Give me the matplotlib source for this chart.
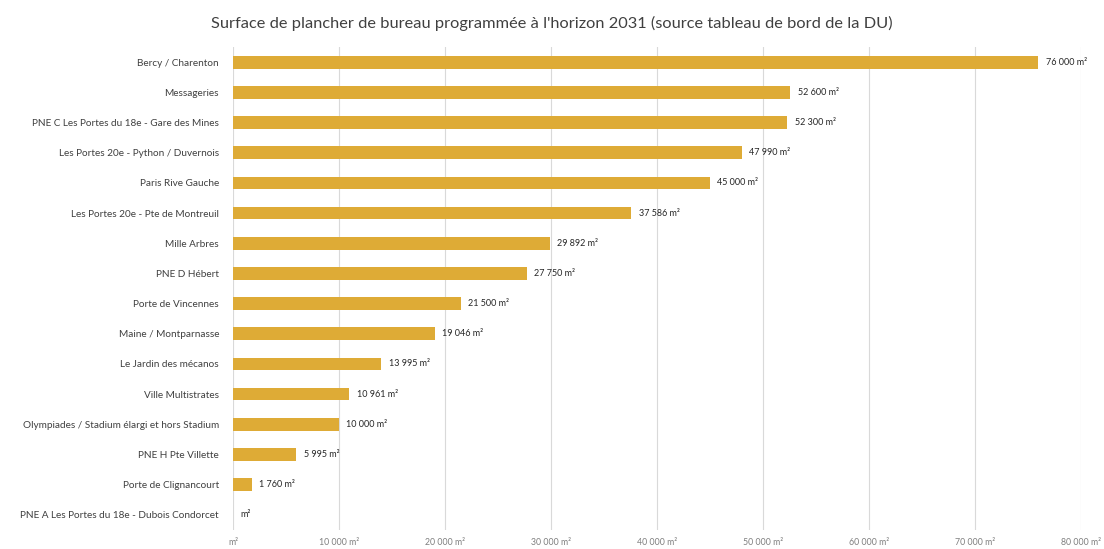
import numpy as np
import matplotlib
matplotlib.use("Agg")
import matplotlib.pyplot as plt
from matplotlib.ticker import FuncFormatter

# Surfaces de bureau par opération (m²)
operations = [
    "Bercy / Charenton",
    "Messageries",
    "PNE C Les Portes du 18e - Gare des Mines",
    "Les Portes 20e - Python / Duvernois",
    "Paris Rive Gauche",
    "Les Portes 20e - Pte de Montreuil",
    "Mille Arbres",
    "PNE D Hébert",
    "Porte de Vincennes",
    "Maine / Montparnasse",
    "Le Jardin des mécanos",
    "Ville Multistrates",
    "Olympiades / Stadium élargi et hors Stadium",
    "PNE H Pte Villette",
    "Porte de Clignancourt",
    "PNE A Les Portes du 18e - Dubois Condorcet",
]
surfaces = [76000, 52600, 52300, 47990, 45000, 37586, 29892, 27750,
            21500, 19046, 13995, 10961, 10000, 5995, 1760, 0]
x_ticks = [0, 10000, 20000, 30000, 40000, 50000, 60000, 70000, 80000]


def fmt_m2(v):
    # format Excel "# ##0 m²" : zéro affiché vide
    v = int(round(v))
    if v == 0:
        return "m²"
    return f"{v:,}".replace(",", " ") + " m²"


plt.rcParams['font.family'] = ['Lato', 'DejaVu Sans']

fig = plt.figure(figsize=(11.04, 5.49), dpi=100)
ax = fig.add_axes([0.211, 0.035, 0.768, 0.879])

y = np.arange(len(operations))
ax.barh(y, surfaces, height=0.42, color="#DEAB36", zorder=3)

for yi, v in zip(y, surfaces):
    ax.text(v + 700, yi, fmt_m2(v), va="center", ha="left",
            fontsize=6.5, color="#262626")

ax.set_yticks(y)
ax.set_yticklabels(operations, fontsize=7.2, color="#404040")
ax.set_ylim(len(operations) - 0.5, -0.5)

ax.set_xlim(0, 80000)
ax.set_xticks(x_ticks)
ax.xaxis.set_major_formatter(FuncFormatter(lambda v, p: fmt_m2(v)))
ax.tick_params(axis="x", labelsize=6.3, labelcolor="#7f7f7f", length=0, pad=6)
ax.tick_params(axis="y", length=0, pad=10)
ax.grid(axis="x", color="#d9d9d9", linewidth=0.8, zorder=0)

for s in ax.spines.values():
    s.set_visible(False)

fig.text(0.5, 0.957, "Surface de plancher de bureau programmée à l'horizon 2031 (source tableau de bord de la DU)",
         ha="center", va="center", fontsize=11.8, color="#404040")

fig.savefig("out.png", dpi=100)
